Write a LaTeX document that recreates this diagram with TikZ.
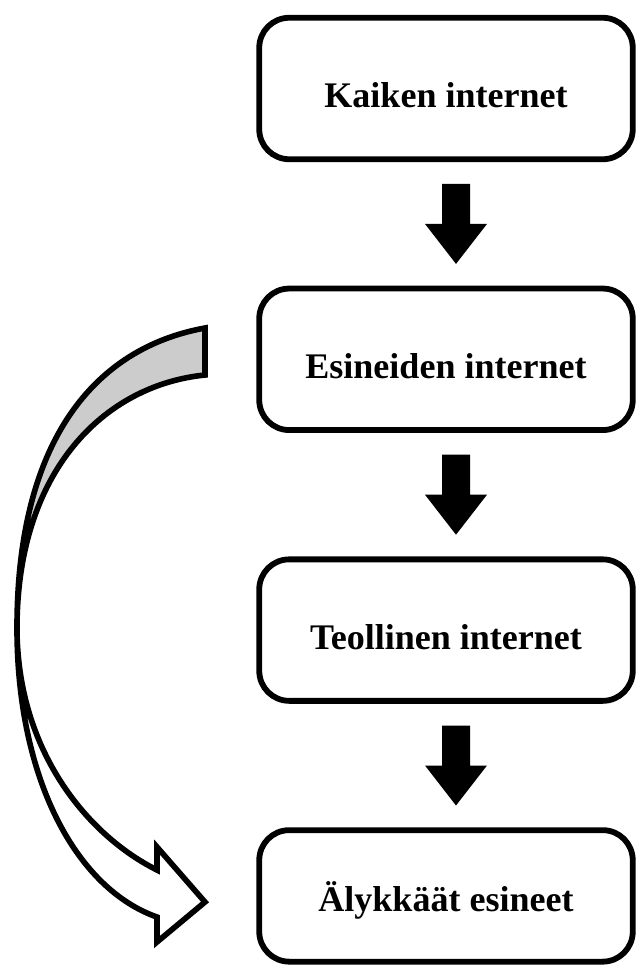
\documentclass[tikz,border=0pt]{standalone}
\usepackage{fontspec}
\setmainfont{Liberation Serif}
\usetikzlibrary{calc, positioning}

\begin{document}
\begin{tikzpicture}[
    node distance=2.47cm,
    stage/.style={draw, line width=3.3pt, rectangle, rounded corners=0.6cm, minimum width=7.47cm, minimum height=2.83cm, text height=0.78cm, align=center, font=\bfseries\fontsize{20.5}{24}\selectfont},
    bigarrow/.style={fill=black},
    curvedarrow/.style={draw=black, line width=3.2pt}
]
\useasboundingbox (0,0) rectangle (12.74,-19.3);

\node[stage] (b1) at (8.92,-1.77) {Kaiken internet};
\node[stage, below=of b1] (b2) {Esineiden internet};
\node[stage, below=of b2] (b3) {Teollinen internet};
\node[stage, below=of b3, minimum height=2.63cm] (b4) {Älykkäät esineet};

% block arrows between the stages
\foreach \u/\v in {b1/b2, b2/b3, b3/b4}
  \fill[bigarrow] ($(\u.south)!0.5!(\v.north)+(0.2,0)$) ++(0,-0.8) -- ++(-0.62,0.8) -- ++(0.34,0) -- ++(0,0.8) -- ++(0.56,0) -- ++(0,-0.8) -- ++(0.34,0) -- cycle;

% curved arrow from Esineiden internet to Älykkäät esineet
\coordinate (tailtop) at (4.10,-6.56);
\coordinate (tailbot) at (4.10,-7.50);
\coordinate (cusp) at (0.34,-12.56);
\coordinate (headtip) at (4.10,-18.04);
\filldraw[curvedarrow, fill=black!20] (tailtop) .. controls (1.90,-6.96) and (0.34,-8.80) .. (cusp)
    .. controls (0.34,-9.40) and (2.10,-7.70) .. (tailbot) -- cycle;
\filldraw[curvedarrow, fill=white] (cusp) .. controls (0.34,-15.60) and (1.54,-17.78) .. (3.14,-18.34)
    -- (3.14,-18.84) -- (headtip) -- (3.14,-16.94) -- (3.14,-17.40)
    .. controls (1.74,-16.70) and (0.34,-15.00) .. (cusp) -- cycle;
\end{tikzpicture}
\end{document}
